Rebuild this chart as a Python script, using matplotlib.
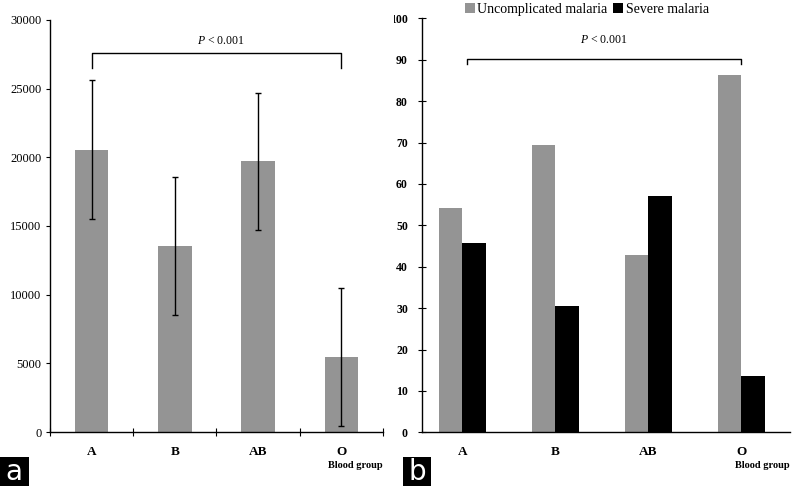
import matplotlib
matplotlib.use("Agg")
import matplotlib.pyplot as plt
from matplotlib.patches import Rectangle
from matplotlib.transforms import Bbox, TransformedBbox

plt.rcParams["font.family"] = ["Liberation Serif", "DejaVu Serif"]
plt.rcParams["mathtext.fontset"] = "custom"
plt.rcParams["mathtext.it"] = "Liberation Serif:italic"
plt.rcParams["mathtext.rm"] = "Liberation Serif"

groups = ["A", "B", "AB", "O"]

# panel a: parasite density (mean, error)
density = [20550, 13550, 19700, 5450]
density_err = [5050, 5050, 5000, 5000]
density_ticks = [0, 5000, 10000, 15000, 20000, 25000, 30000]

# panel b: percentages
uncomplicated = [54.3, 69.5, 42.9, 86.4]
severe = [45.7, 30.5, 57.1, 13.6]
pct_ticks = list(range(0, 101, 10))

GREY = "#949494"
x = list(range(len(groups)))

fig = plt.figure(figsize=(7.93, 4.86), dpi=100)

# ---- panel a ----
ax1 = fig.add_axes([0.063, 0.111, 0.42, 0.848])
ax1.bar(x, density, width=0.4, color=GREY, zorder=2)
ax1.errorbar(x, density, yerr=density_err, fmt="none", ecolor="black",
             elinewidth=1, capsize=2.2, capthick=1, zorder=3)
ax1.set_xlim(-0.5, 3.5)
ax1.set_ylim(0, 30000)
ax1.set_yticks(density_ticks)
ax1.set_yticklabels([str(t) for t in density_ticks], fontsize=9)
ax1.tick_params(axis="y", direction="out", length=3, width=0.8, pad=3)
ax1.set_xticks([-0.5, 0.5, 1.5, 2.5, 3.5])
ax1.set_xticklabels([])
ax1.tick_params(axis="x", direction="inout", length=6, width=0.8)
ax1.set_xticks(x, minor=True)
ax1.set_xticklabels(groups, minor=True, fontsize=9.5, fontweight="bold")
ax1.tick_params(axis="x", which="minor", length=0, pad=10)
for s in ["top", "right"]:
    ax1.spines[s].set_visible(False)
for s in ["left", "bottom"]:
    ax1.spines[s].set_linewidth(1)

ax1.plot([0, 0, 3, 3], [26500, 27600, 27600, 26500], color="black", lw=1,
         clip_on=False)
ax1.text(1.55, 28450, "$P$ < 0.001", ha="center", va="center", fontsize=8.5)
ax1.text(3.5, -2400, "Blood group", ha="right", va="center", fontsize=7.5,
         fontweight="bold")

# ---- panel b ----
ax2 = fig.add_axes([0.532, 0.1105, 0.464, 0.8515])
w = 0.25
ax2.bar([i - w / 2 for i in x], uncomplicated, width=w, color=GREY,
        label="Uncomplicated malaria", zorder=2)
ax2.bar([i + w / 2 for i in x], severe, width=w, color="black",
        label="Severe malaria", zorder=2)
ax2.set_xlim(-0.435, 3.52)
ax2.set_ylim(0, 100)
ax2.set_yticks(pct_ticks)
ax2.set_yticklabels([str(t) for t in pct_ticks], fontsize=8.5,
                    fontweight="bold")
ax2.tick_params(axis="y", direction="inout", length=6, width=0.8, pad=7)
ax2.set_xticks(x)
ax2.set_xticklabels(groups, fontsize=9.5, fontweight="bold")
ax2.tick_params(axis="x", length=0, pad=10)
for s in ["top", "right"]:
    ax2.spines[s].set_visible(False)
for s in ["left", "bottom"]:
    ax2.spines[s].set_linewidth(1)

ax2.plot([0.05, 0.05, 3.0, 3.0], [89, 90.1, 90.1, 89], color="black", lw=1,
         clip_on=False)
ax2.text(1.52, 94.8, "$P$ < 0.001", ha="center", va="center", fontsize=8.5)
ax2.text(3.52, -8, "Blood group", ha="right", va="center", fontsize=7.5,
         fontweight="bold")

ax2.legend(loc="center", bbox_to_anchor=(0.74, 0.981),
           bbox_transform=fig.transFigure, ncol=2, frameon=False,
           fontsize=10, handlelength=0.7, handleheight=0.7,
           handletextpad=0.2, columnspacing=0.4, borderpad=0)

# the "100" label is cut at the panel edge in the original figure
clip = TransformedBbox(Bbox([[0.4965, 0], [1, 1]]), fig.transFigure)
for lab in ax2.get_yticklabels():
    lab.set_clip_box(clip)
    lab.set_clip_on(True)

# panel letters
for x0, letter in [(0.0, "a"), (0.508, "b")]:
    fig.add_artist(Rectangle((x0, 0.0), 0.036, 0.06, transform=fig.transFigure,
                             facecolor="black", edgecolor="none"))
    fig.text(x0 + 0.018, 0.028, letter, color="white", ha="center",
             va="center", fontsize=20, family="DejaVu Sans")

fig.savefig("out.png", dpi=100)
